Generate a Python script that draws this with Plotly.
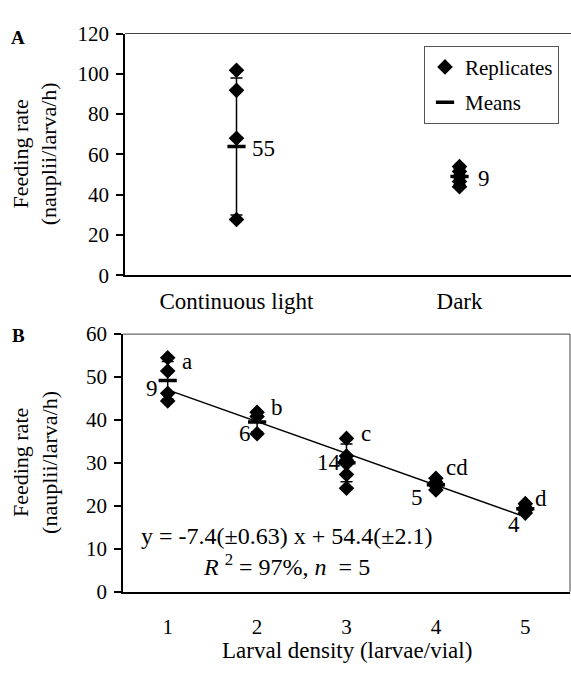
import plotly.graph_objects as go

FONT = "'Liberation Serif', 'Times New Roman', 'DejaVu Serif', serif"
W, H = 571, 675

# ---------- Panel A data ----------
a_categories = ["Continuous light", "Dark"]
a_light_reps = [101.8, 91.8, 68.0, 27.7]
a_dark_reps = [54.0, 51.5, 49.0, 46.5, 44.0]
a_means = [63.9, 49.0]
a_err = [34.0, 4.0]
a_n_labels = ["55", "9"]

# ---------- Panel B data ----------
b_density = [1, 2, 3, 4, 5]
b_reps = [
    [54.5, 51.4, 46.2, 44.4],
    [41.8, 40.8, 36.8],
    [35.7, 31.6, 30.6, 29.8, 27.3, 24.1],
    [26.4, 25.5, 24.6, 23.7],
    [20.5, 19.6, 18.9, 18.3],
]
b_means = [49.2, 39.5, 30.0, 24.9, 19.3]
b_err = [4.4, 2.3, 4.4, 1.1, 0.9]
b_n_labels = ["9", "6", "14", "5", "4"]
b_letters = ["a", "b", "c", "cd", "d"]
fit_slope = -7.4
fit_intercept = 54.4
fit_x = [1, 5]


def px(x):
    return x / W


def py(y):
    return (H - y) / H


fig = go.Figure()

# Panel A replicates
ax_x, ax_y = [], []
for i, reps in enumerate([a_light_reps, a_dark_reps]):
    ax_x += [i] * len(reps)
    ax_y += reps
fig.add_trace(go.Scatter(
    x=ax_x, y=ax_y, mode="markers", name="Replicates",
    marker=dict(symbol="diamond", size=12, color="black"),
    xaxis="x", yaxis="y", legendgroup="r", legendrank=1))
fig.add_trace(go.Scatter(
    x=[0, 1], y=a_means, mode="markers", name="Means",
    marker=dict(symbol="line-ew", size=13, color="black",
                line=dict(width=3.5, color="black")),
    error_y=dict(type="data", array=a_err, color="black", thickness=1.5, width=6),
    xaxis="x", yaxis="y", legendgroup="m", legendrank=2))

# Panel B replicates
bx, by = [], []
for d, reps in zip(b_density, b_reps):
    bx += [d] * len(reps)
    by += reps
fig.add_trace(go.Scatter(
    x=bx, y=by, mode="markers", showlegend=False,
    marker=dict(symbol="diamond", size=12, color="black"),
    xaxis="x2", yaxis="y2"))
fig.add_trace(go.Scatter(
    x=fit_x, y=[fit_slope * v + fit_intercept for v in fit_x], mode="lines",
    showlegend=False, line=dict(color="black", width=1.5),
    xaxis="x2", yaxis="y2"))
fig.add_trace(go.Scatter(
    x=b_density, y=b_means, mode="markers", showlegend=False,
    marker=dict(symbol="line-ew", size=13, color="black",
                line=dict(width=3.5, color="black")),
    error_y=dict(type="data", array=b_err, color="black", thickness=1.5, width=6),
    xaxis="x2", yaxis="y2"))

tickfont = dict(family=FONT, size=21, color="black")
axis_common = dict(showline=True, linecolor="black", linewidth=1.5,
                   showgrid=False, zeroline=False, tickfont=tickfont)

annotations = []
txt = dict(family=FONT, size=23, color="black")
eq_font = dict(family=FONT, size=24, color="black")
# Panel A labels
annotations.append(dict(x=0.12, y=63, xref="x", yref="y", text=a_n_labels[0],
                        showarrow=False, font=txt))
annotations.append(dict(x=1.11, y=48, xref="x", yref="y", text=a_n_labels[1],
                        showarrow=False, font=txt))
# Panel B labels
n_pos = [(0.82, 47.4), (1.86, 36.9), (2.8, 30.2), (3.79, 21.9), (4.87, 15.6)]
l_pos = [(1.22, 53.7), (2.22, 43.0), (3.22, 36.9), (4.24, 29.0), (5.17, 21.6)]
for lab, (x, y) in zip(b_n_labels, n_pos):
    annotations.append(dict(x=x, y=y, xref="x2", yref="y2", text=lab,
                            showarrow=False, font=txt))
for lab, (x, y) in zip(b_letters, l_pos):
    annotations.append(dict(x=x, y=y, xref="x2", yref="y2", text=lab,
                            showarrow=False, font=txt))
annotations.append(dict(x=2.33, y=12.9, xref="x2", yref="y2",
                        text="y = -7.4(±0.63) x + 54.4(±2.1)",
                        showarrow=False, font=eq_font))
annotations.append(dict(x=2.33, y=6.3, xref="x2", yref="y2",
                        text="<i>R</i> <sup>2</sup> = 97%, <i>n</i>  = 5",
                        showarrow=False, font=eq_font))
# Axis titles
pa = dict(xref="paper", yref="paper", xanchor="center", yanchor="middle",
          showarrow=False)
ytitle_font = dict(family=FONT, size=22, color="black")
annotations.append(dict(x=px(35), y=py(147.5), text="Feeding rate<br>(nauplii/larva/h)",
                        textangle=-90, font=ytitle_font, **pa))
annotations.append(dict(x=px(35), y=py(467.5), text="Feeding rate<br>(nauplii/larva/h)",
                        textangle=-90, font=ytitle_font, **pa))
annotations.append(dict(x=px((123 + 570) / 2), y=py(662),
                        text="Larval density (larvae/vial)", font=txt, **pa))
# Panel letters
annotations.append(dict(x=px(18), y=py(26), text="<b>A</b>",
                        font=dict(family=FONT, size=19, color="black"), **pa))
annotations.append(dict(x=px(18), y=py(335), text="<b>B</b>",
                        font=dict(family=FONT, size=19, color="black"), **pa))

fig.update_layout(
    width=W, height=H,
    margin=dict(l=0, r=0, t=0, b=0),
    paper_bgcolor="white", plot_bgcolor="white",
    font=dict(family=FONT, color="black"),
    xaxis=dict(domain=[px(125), 1.0], range=[-0.5, 1.5], tickvals=[0, 1],
               ticktext=a_categories, ticks="", ticklabelstandoff=4,
               tickfont=dict(family=FONT, size=23, color="black"),
               showline=True, linecolor="black", linewidth=1.5,
               showgrid=False, zeroline=False, anchor="y"),
    yaxis=dict(domain=[py(273), py(22.3)], range=[0, 120],
               dtick=20, ticks="outside", ticklen=7, tickwidth=1.5,
               ticklabelstandoff=3, tickcolor="black", anchor="x", **axis_common),
    xaxis2=dict(domain=[px(123), px(570)], range=[0.5, 5.5], dtick=1,
                ticks="", ticklabelstandoff=15, anchor="y2", **axis_common),
    yaxis2=dict(domain=[py(601), py(334)], range=[0, 60],
                dtick=10, ticks="outside", ticklen=7, tickwidth=1.5,
                ticklabelstandoff=3, tickcolor="black", anchor="x2", **axis_common),
    shapes=[
        dict(type="line", xref="paper", yref="paper", x0=px(125), x1=1.0,
             y0=py(22.3), y1=py(22.3), line=dict(color="#444", width=1)),
        dict(type="line", xref="paper", yref="paper", x0=px(123), x1=px(570),
             y0=py(334), y1=py(334), line=dict(color="#444", width=1)),
        dict(type="line", xref="paper", yref="paper", x0=px(570), x1=px(570),
             y0=py(601), y1=py(334), line=dict(color="#444", width=1)),
    ],
    legend=dict(x=px(424), y=py(35), xanchor="left", yanchor="top",
                bordercolor="#555", borderwidth=1, bgcolor="white",
                font=dict(family=FONT, size=21, color="black"),
                traceorder="grouped", tracegroupgap=5, itemwidth=30),
    annotations=annotations,
)

fig.write_html(
    "out.html",
    config={"displayModeBar": False},
    post_script=("document.body.style.margin='0';"
                 "document.body.style.overflow='hidden';"
                 "document.documentElement.style.overflow='hidden';"),
)
